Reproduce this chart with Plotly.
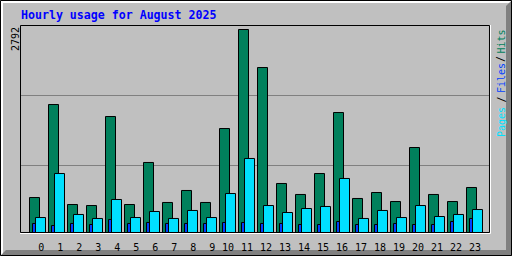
import plotly.graph_objects as go

# ---- data ----
hours = list(range(24))
hits = [481, 1760, 385, 371, 1595, 385, 963, 413, 578, 413, 1430, 2792,
        2269, 674, 523, 811, 1650, 468, 550, 426, 1169, 523, 426, 619]
files = [124, 96, 124, 110, 179, 124, 138, 124, 124, 124, 138, 138,
         124, 124, 110, 110, 151, 110, 110, 124, 110, 110, 151, 193]
pages = [206, 811, 248, 193, 454, 206, 289, 193, 303, 206, 536, 1018,
         371, 275, 330, 358, 743, 193, 303, 206, 371, 220, 248, 316]
hour_labels = [str(h) for h in hours]
title_text = "Hourly usage for August 2025"
max_label = "2792"
y_max = 2792

# ---- geometry (pixels) ----
W, H = 512, 256
L, R, T, B = 20, 490, 25, 233          # plot area edges
SLOT = 19.0                             # pixels per hour
X0 = 29.5                               # pixel of hour 0 green bar left stroke

def PX(c):
    return (c - L) / (R - L)

def PY(r):
    return (B - r) / (B - T)

k = 203.0 / y_max                       # px per unit
ymin = -0.5 / k
ymax = ymin + (B - T) / k
xmin = (L - X0) / SLOT
xmax = (R - X0) / SLOT

GREEN = "#00805C"
BLUE = "#0040FF"
CYAN = "#00E0FF"
BG = "#C0C0C0"
MONO = "DejaVu Sans Mono"

fig = go.Figure()
fig.add_trace(go.Bar(x=hours, y=hits, offset=0, width=10 / SLOT,
                     marker=dict(color=GREEN, line=dict(color="black", width=1)),
                     name="Hits"))
fig.add_trace(go.Bar(x=hours, y=files, offset=3 / SLOT, width=10 / SLOT,
                     marker=dict(color=BLUE, line=dict(color="black", width=1)),
                     name="Files"))
fig.add_trace(go.Bar(x=hours, y=pages, offset=6 / SLOT, width=10 / SLOT,
                     marker=dict(color=CYAN, line=dict(color="black", width=1)),
                     name="Pages"))

tickvals = [h + ((11.8 if h < 10 else 8.5) / SLOT) for h in hours]

shapes = []
# outer frame: dark shadow bottom/right
shapes.append(dict(type="path", xref="paper", yref="paper", layer="below",
                   path="M %f %f L %f %f L %f %f L %f %f L %f %f L %f %f Z" % (
                       PX(512), PY(0), PX(512), PY(256), PX(0), PY(256),
                       PX(6), PY(250), PX(506), PY(250), PX(506), PY(6)),
                   fillcolor="#808080", line=dict(width=0)))
# white highlight top/left
shapes.append(dict(type="path", xref="paper", yref="paper", layer="below",
                   path="M %f %f L %f %f L %f %f L %f %f L %f %f L %f %f Z" % (
                       PX(1), PY(1), PX(511), PY(1), PX(509), PY(3),
                       PX(3), PY(3), PX(3), PY(253), PX(1), PY(255)),
                   fillcolor="#FFFFFF", line=dict(width=0)))
# black outer outline
shapes.append(dict(type="rect", xref="paper", yref="paper", layer="below",
                   x0=PX(0.5), x1=PX(511.5), y0=PY(0.5), y1=PY(255.5),
                   line=dict(color="black", width=1)))
# grid lines
for r in (95.5, 165.5):
    shapes.append(dict(type="line", xref="paper", yref="paper", layer="below",
                       x0=PX(21), x1=PX(489), y0=PY(r), y1=PY(r),
                       line=dict(color="#808080", width=1)))
# plot box: black top/left/right/bottom, white bottom/right outside
shapes.append(dict(type="path", xref="paper", yref="paper", layer="above",
                   path="M %f %f L %f %f L %f %f L %f %f Z" % (
                       PX(20.5), PY(232.5), PX(20.5), PY(25.5),
                       PX(489.5), PY(25.5), PX(489.5), PY(232.5)),
                   line=dict(color="black", width=1)))
shapes.append(dict(type="path", xref="paper", yref="paper", layer="above",
                   path="M %f %f L %f %f L %f %f" % (
                       PX(490.5), PY(25), PX(490.5), PY(233.5), PX(20), PY(233.5)),
                   line=dict(color="white", width=1)))

annotations = [
    dict(text=title_text, x=PX(19), y=PY(15), xref="paper", yref="paper",
         xanchor="left", yanchor="middle", showarrow=False,
         font=dict(family=MONO, size=11.6, color="#0000FF", weight="bold")),
    dict(text=max_label, x=PX(15), y=PY(39), xref="paper", yref="paper",
         xanchor="center", yanchor="middle", showarrow=False, textangle=-90,
         font=dict(family=MONO, size=10, color="black")),
]
legend_parts = [("Hits", GREEN, 41.5), ("/", "black", 59), ("Files", BLUE, 78),
                ("/", "black", 99.5), ("Pages", CYAN, 122)]
for txt, col, yc in legend_parts:
    annotations.append(dict(text=txt, x=PX(501), y=PY(yc), xref="paper", yref="paper",
                            xanchor="center", yanchor="middle", showarrow=False,
                            textangle=-90,
                            font=dict(family=MONO, size=10, color=col)))

fig.update_layout(
    width=W, height=H,
    margin=dict(l=L, r=W - R, t=T, b=H - B, pad=0, autoexpand=False),
    paper_bgcolor=BG, plot_bgcolor=BG,
    barmode="overlay", bargap=0.2,
    showlegend=False,
    shapes=shapes,
    annotations=annotations,
    xaxis=dict(range=[xmin, xmax], tickvals=tickvals, ticktext=hour_labels,
               showgrid=False, zeroline=False, showline=False, ticks="",
               ticklabelstandoff=7, automargin=False,
               tickfont=dict(family=MONO, size=10, color="black"),
               fixedrange=True),
    yaxis=dict(range=[ymin, ymax], showgrid=False, zeroline=False,
               showline=False, showticklabels=False, ticks="", fixedrange=True,
               automargin=False),
)

fig.write_html("out.html", config={"displayModeBar": False})
